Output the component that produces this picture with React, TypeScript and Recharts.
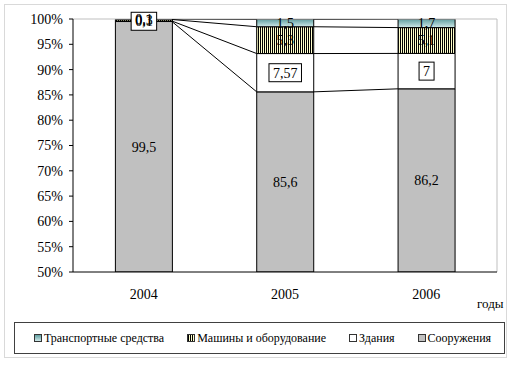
import React from 'react';
import {
  Bar,
  ComposedChart,
  LabelList,
  Legend,
  Line,
  ReferenceLine,
  XAxis,
  YAxis,
} from 'recharts';

const years = ['2004', '2005', '2006'];
const sooruzheniya = [99.5, 85.6, 86.2];
const zdaniya = [0.1, 7.57, 7];
const mashiny = [0.3, 5.3, 5.1];
const transport = [0.1, 1.5, 1.7];
const yTicks = [50, 55, 60, 65, 70, 75, 80, 85, 90, 95, 100];

const FONT = '"Times New Roman", "Liberation Serif", Tinos, serif';
const BAR_SHARE = 0.4;
const Y_MIN = yTicks[0];
const Y_MAX = yTicks[yTicks.length - 1];

const data = years.map((year, i) => ({
  year,
  sooruzheniya: sooruzheniya[i],
  zdaniya: zdaniya[i],
  mashiny: mashiny[i],
  transport: transport[i],
}));

// series lines (Excel style) joining segment tops between neighbouring bars
const stackOrder = [sooruzheniya, zdaniya, mashiny, transport];
const cumulative = stackOrder.map((_, k) =>
  years.map((_, i) => stackOrder.slice(0, k + 1).reduce((s, arr) => s + arr[i], 0))
);
const seriesLines = cumulative.map((level) => {
  const pts: Array<{ x: number; y: number | null }> = [];
  for (let i = 0; i < years.length - 1; i++) {
    pts.push({ x: i + 0.5 + BAR_SHARE / 2, y: level[i] });
    pts.push({ x: i + 1.5 - BAR_SHARE / 2, y: level[i + 1] });
    pts.push({ x: i + 1.5, y: null });
  }
  return pts;
});

const fmt = (v: any) => String(v).replace('.', ',');

const TextLabel = (props: any) => {
  const vb = props.viewBox || props;
  const cx = vb.x + vb.width / 2;
  const cy = vb.y + vb.height / 2;
  return (
    <text x={cx} y={cy} dy="0.35em" textAnchor="middle" style={{ fontFamily: FONT }} fontSize={14} fill="#000">
      {fmt(props.value)}
    </text>
  );
};

const BoxLabel = (props: any) => {
  const vb = props.viewBox || props;
  const cx = vb.x + vb.width / 2;
  const cy = vb.y + vb.height / 2;
  const t = fmt(props.value);
  const w = t.replace(',', '').length * 7 + (t.includes(',') ? 3.5 : 0) + 8;
  const h = 18;
  return (
    <g>
      <rect x={cx - w / 2} y={cy - h / 2} width={w} height={h} fill="#fff" stroke="#000" />
      <text x={cx} y={cy} dy="0.35em" textAnchor="middle" style={{ fontFamily: FONT }} fontSize={14} fill="#000">
        {t}
      </text>
    </g>
  );
};

const legendItems = [
  { name: 'Транспортные средства', bg: 'linear-gradient(#5f9ea0, #cfe9e9)' },
  { name: 'Машины и оборудование', bg: 'repeating-linear-gradient(90deg, #000 0 1px, #ffffcc 1px 2px)' },
  { name: 'Здания', bg: '#fff' },
  { name: 'Сооружения', bg: '#c0c0c0' },
];

const LegendBox = () => (
  <div
    style={{
      boxSizing: 'border-box',
      width: '100%',
      height: '100%',
      border: '1px solid #404040',
      display: 'flex',
      alignItems: 'center',
      justifyContent: 'center',
      gap: 23,
      paddingLeft: 6,
      fontFamily: FONT,
      fontSize: 12,
      whiteSpace: 'nowrap',
      color: '#000',
    }}
  >
    {legendItems.map((it) => (
      <div key={it.name} style={{ display: 'flex', alignItems: 'center' }}>
        <span
          style={{
            display: 'inline-block',
            width: 6,
            height: 6,
            border: '1px solid #333',
            background: it.bg,
            marginRight: 2,
          }}
        />
        <span>{it.name}</span>
      </div>
    ))}
  </div>
);

export default function App() {
  return (
    <div
      style={{
        position: 'absolute',
        left: 0,
        top: 0,
        width: 515,
        height: 365,
        background: '#fff',
        fontFamily: FONT,
      }}
    >
      <div
        style={{
          position: 'absolute',
          left: 4,
          top: 4,
          width: 503,
          height: 354,
          border: '1px solid #d9d9d9',
          boxSizing: 'border-box',
        }}
      />
      <ComposedChart
        width={515}
        height={365}
        data={data}
        margin={{ top: 19, right: 18, left: 0, bottom: 48 }}
        barCategoryGap={`${((1 - BAR_SHARE) / 2) * 100}%`}
        style={{ position: 'absolute', left: 0, top: 0 }}
      >
        <defs>
          <pattern id="vstripes" width="2" height="2" patternUnits="userSpaceOnUse">
            <rect width="2" height="2" fill="#ffffcc" />
            <rect width="1" height="2" fill="#000" />
          </pattern>
          <linearGradient id="teal" x1="0" y1="0" x2="0" y2="1">
            <stop offset="0" stopColor="#5f9ea0" />
            <stop offset="1" stopColor="#cfe9e9" />
          </linearGradient>
        </defs>
        <XAxis
          type="number"
          dataKey="x"
          domain={[0, years.length]}
          ticks={years.map((_, i) => i).concat(years.length)}
          allowDataOverflow
          tick={false}
          tickSize={5}
          tickLine={{ stroke: '#000' }}
          axisLine={{ stroke: '#000' }}
          height={5}
        />
        <XAxis
          xAxisId="cat"
          dataKey="year"
          axisLine={false}
          tickLine={false}
          tickMargin={6}
          height={40}
          tick={{ fill: '#000', fontFamily: FONT, fontSize: 14 }}
          label={{ value: 'годы', position: 'right', offset: -20, dy: 6, fill: '#000', fontFamily: FONT, fontSize: 13 }}
        />
        <YAxis
          domain={[Y_MIN, Y_MAX]}
          ticks={yTicks}
          allowDataOverflow
          width={73}
          tickSize={4}
          tickMargin={6}
          tickFormatter={(v) => `${v}%`}
          axisLine={{ stroke: '#000' }}
          tickLine={{ stroke: '#000' }}
          tick={{ fill: '#000', fontFamily: FONT, fontSize: 14 }}
        />
        <ReferenceLine y={Y_MAX} stroke="#bfbfbf" />
        <ReferenceLine x={years.length} stroke="#bfbfbf" />
        {seriesLines.map((pts, k) => (
          <Line
            key={k}
            data={pts}
            dataKey="y"
            type="linear"
            stroke="#000"
            strokeWidth={1}
            dot={false}
            activeDot={false}
            connectNulls={false}
            legendType="none"
            isAnimationActive={false}
          />
        ))}
        <Bar xAxisId="cat" dataKey="sooruzheniya" stackId="a" fill="#c0c0c0" stroke="#000" isAnimationActive={false}>
          <LabelList dataKey="sooruzheniya" content={TextLabel} />
        </Bar>
        <Bar xAxisId="cat" dataKey="zdaniya" stackId="a" fill="#fff" stroke="#000" isAnimationActive={false}>
          <LabelList dataKey="zdaniya" content={BoxLabel} />
        </Bar>
        <Bar xAxisId="cat" dataKey="mashiny" stackId="a" fill="url(#vstripes)" stroke="#000" isAnimationActive={false}>
          <LabelList dataKey="mashiny" content={TextLabel} />
        </Bar>
        <Bar xAxisId="cat" dataKey="transport" stackId="a" fill="url(#teal)" stroke="#000" isAnimationActive={false}>
          <LabelList dataKey="transport" content={TextLabel} />
        </Bar>
        <Legend
          verticalAlign="middle"
          layout="horizontal"
          content={LegendBox}
          wrapperStyle={{ position: 'absolute', left: 14, top: 322, width: 491, height: 32 }}
        />
      </ComposedChart>
    </div>
  );
}
